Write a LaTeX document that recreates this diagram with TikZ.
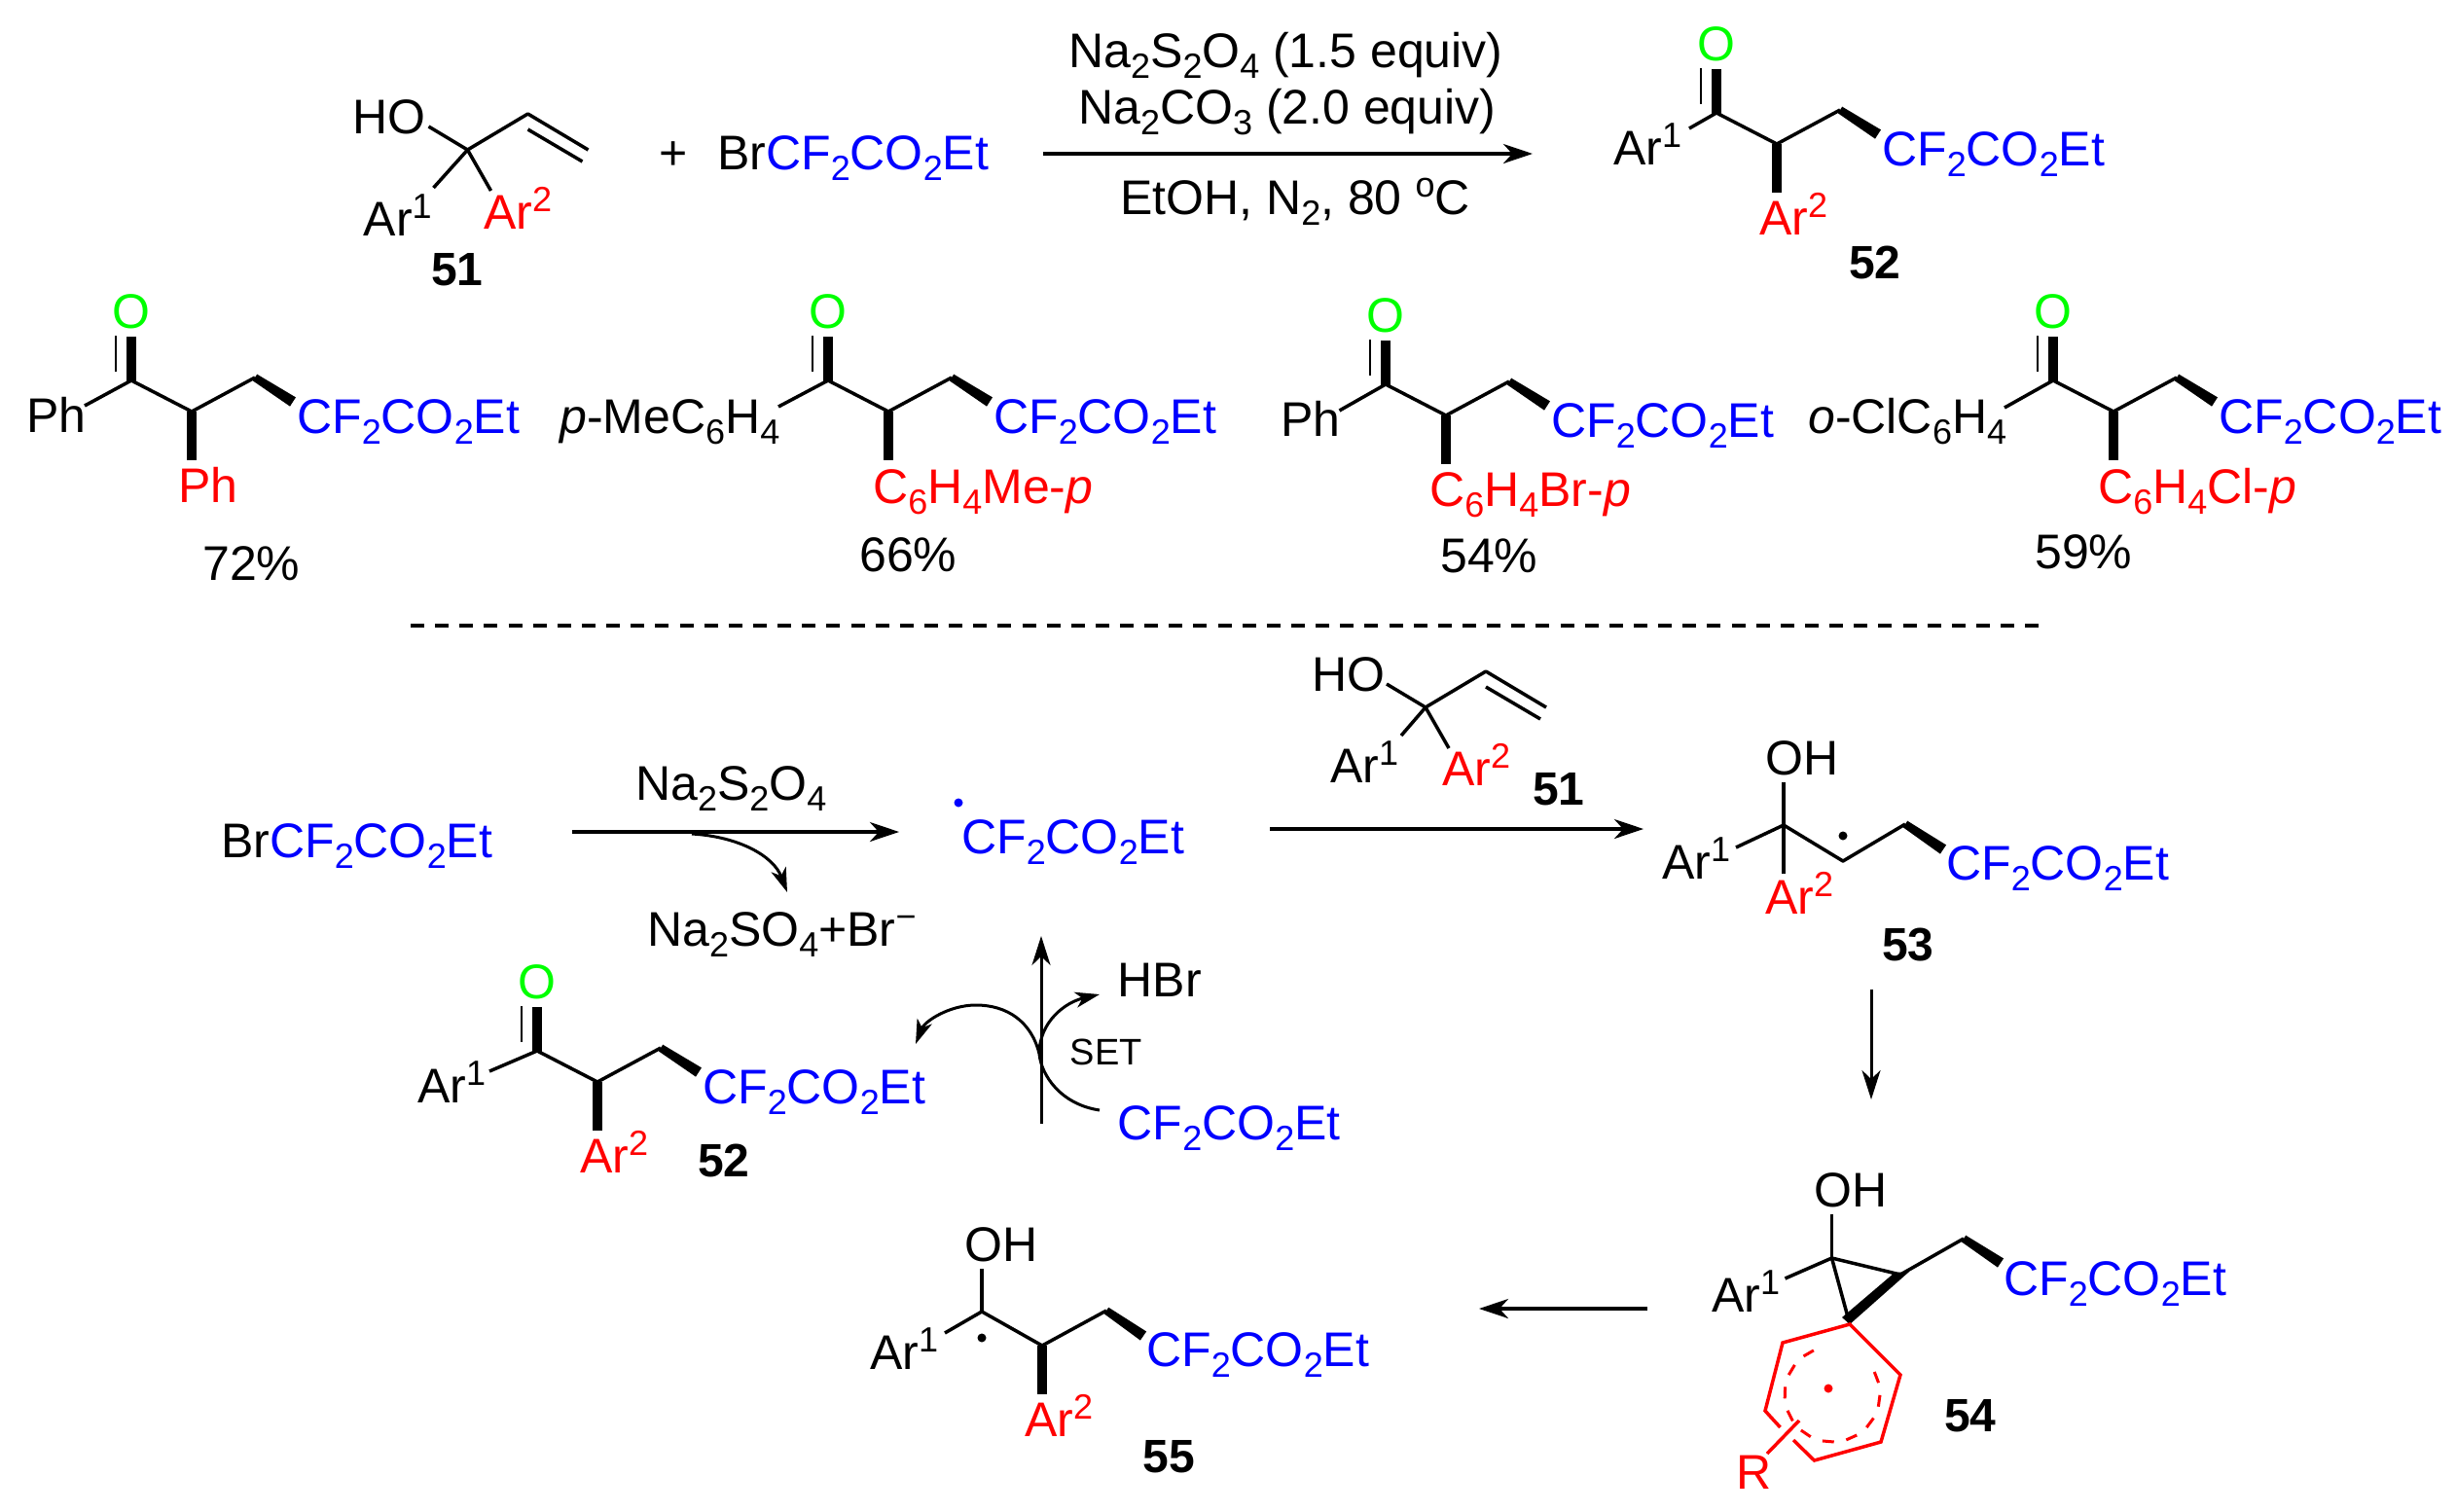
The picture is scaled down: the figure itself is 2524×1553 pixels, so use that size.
\documentclass[tikz,border=0pt]{standalone}
\usepackage{fontspec}
\setmainfont{Liberation Sans}
\usetikzlibrary{arrows.meta,calc}
\newcommand\sbs[1]{\raisebox{-11pt}{\fontsize{36}{36}\selectfont #1}}
\newcommand\sps[1]{\raisebox{18pt}{\fontsize{36}{36}\selectfont #1}}
\newcommand\CFE{\textcolor{blue}{CF\sbs{2}CO\sbs{2}Et}}
\newcommand\ArA{Ar\sps{1}}
\newcommand\ArB{\textcolor{red}{Ar\sps{2}}}
\newcommand\wdg[2]{\fill ($(#1)!4pt!90:(#2)$) -- ($(#1)!4pt!-90:(#2)$) -- ($(#2)!5.5pt!90:(#1)$) -- ($(#2)!5.5pt!-90:(#1)$) -- cycle;}
% ketone: #1 name, #2 carbonyl carbon, #3 left-hand bond end relative to that carbon
\newcommand\ketone[3]{%
  \begin{scope}[shift={(#2)}]
    \node[clbl,text=green] (#1O) at (0,-54) {O};
    \node[lbl] (#1R) at (172,54) {\CFE};
    \coordinate (#1a) at (62,32);
    \coordinate (#1b) at (127,-3);
    \coordinate (#1c) at (166,22);
    \draw[bond] (#3) -- (0,0) -- (#1a) -- (#1b);
    \draw[line width=2.5pt] (-16,-46) -- (-16,-9);
    \draw[line width=10pt] (0,-45) -- (0,1);
    \draw[line width=10pt] (#1a) -- (62,82);
    \wdg{#1b}{#1c}
  \end{scope}}
% allyl alcohol: #1 name, #2 centre carbon, #3 Ar1 bond end, #4 Ar1 text, #5 Ar2 text, #6 HO text
\newcommand\allyl[6]{%
  \begin{scope}[shift={(#2)}]
    \node[lbl] (#1H) at (#6) {HO};
    \node[lbl] (#1A) at (#4) {\ArA};
    \node[lbl] (#1B) at (#5) {\ArB};
    \draw[bond] (-40,-24) -- (0,0) -- (62,-37) -- (124,0);
    \draw[bond] (0,0) -- (#3);
    \draw[bond] (0,0) -- (24,42);
    \draw[bond] (62,-21) -- (118,12);
  \end{scope}}
\tikzset{
  lbl/.style={inner sep=0pt,anchor=base west,xshift=-2pt,font=\fontsize{50}{51}\selectfont},
  clbl/.style={inner sep=0pt,anchor=base,font=\fontsize{50}{51}\selectfont},
  num/.style={inner sep=0pt,anchor=base west,xshift=-2pt,font=\fontsize{48}{49}\selectfont\bfseries},
  bond/.style={draw=black,line width=3.5pt,line join=round},
  rbond/.style={draw=red,line width=3.5pt,line join=miter},
  rxn/.style={line width=3.5pt,-{Stealth[length=30pt,width=20pt,inset=9pt]}},
  thinarr/.style={line width=3pt,-{Stealth[length=25pt,width=16pt,inset=7pt]}},
}
\begin{document}
\begin{tikzpicture}[x=1pt,y=-1pt]
\useasboundingbox (0,0) rectangle (2524,1553);
% top scheme
\allyl{ta}{480.5,154}{-35,39}{-105,88}{18.5,81}{-116.5,-17}
\node[num] (n51) at (445,293) {51};
\node[clbl] (plus) at (692,174) {+};
\node[lbl] (brc) at (739,174) {Br\CFE};
\node[lbl] (c1) at (1100,69) {Na\sbs{2}S\sbs{2}O\sbs{4} (1.5 equiv)};
\node[lbl] (c2) at (1110,127) {Na\sbs{2}CO\sbs{3} (2.0 equiv)};
\node[lbl] (c3) at (1153,220) {EtOH, N\sbs{2}, 80 \sps{o}C};
\coordinate (ta1) at (1072,158);
\coordinate (ta2) at (1575,158);
\draw[rxn] (ta1) -- (ta2);
\ketone{tk}{1764,116}{-28,16}
\node[lbl] (tkA) at (1660,169) {\ArA};
\node[lbl] (tkB) at (1810,241) {\ArB};
\node[num] (n52) at (1902,286) {52};
% products
\ketone{pa}{135,391}{-48,26}
\node[lbl] (paL) at (29,444) {Ph};
\node[lbl,text=red] (paB) at (185,516) {Ph};
\node[lbl] (paY) at (210,596) {72\%};
\ketone{pb}{851,391}{-51,27}
\node[lbl] (pbL) at (577,445) {\textit{p}-MeC\sbs{6}H\sbs{4}};
\node[lbl,text=red] (pbB) at (899,517) {C\sbs{6}H\sbs{4}Me-\textit{p}};
\node[lbl] (pbY) at (885,587) {66\%};
\ketone{pc}{1424,395}{-47.5,27}
\node[lbl] (pcL) at (1318,448) {Ph};
\node[lbl,text=red] (pcB) at (1471,520) {C\sbs{6}H\sbs{4}Br-\textit{p}};
\node[lbl] (pcY) at (1482,588) {54\%};
\ketone{pd}{2110,391}{-50,28}
\node[lbl] (pdL) at (1860,445) {\textit{o}-ClC\sbs{6}H\sbs{4}};
\node[lbl,text=red] (pdB) at (2158,517) {C\sbs{6}H\sbs{4}Cl-\textit{p}};
\node[lbl] (pdY) at (2093,584) {59\%};
% divider
\coordinate (d1) at (422,643);
\coordinate (d2) at (2095,643);
\draw[line width=4pt,dash pattern=on 14pt off 11.14pt] (d1) -- (d2);
% mechanism, first row
\node[lbl] (mb) at (229,881) {Br\CFE};
\node[lbl] (ma) at (655,822) {Na\sbs{2}S\sbs{2}O\sbs{4}};
\node[lbl] (mn) at (667,972) {Na\sbs{2}SO\sbs{4}+Br\sps{−}};
\node[lbl] (mr) at (990,877) {\CFE};
\fill[blue] (985,825) circle (4.5);
\coordinate (m1) at (588,855);
\coordinate (m2) at (924,855);
\draw[rxn] (m1) -- (m2);
\coordinate (m3) at (711,857);
\coordinate (m4) at (809,917);
\draw[thinarr] (m3) .. controls (760,860) and (795,880) .. (m4);
\coordinate (m5) at (1305,852);
\coordinate (m6) at (1689,852);
\draw[rxn] (m5) -- (m6);
\allyl{ma}{1465,727}{-25,29}{-96,77}{19,80}{-115,-17}
\node[num] (n51b) at (1577,827) {51};
% 53
\node[lbl] (oa) at (1816,796) {OH};
\node[lbl] (aa) at (1710,903) {\ArA};
\node[lbl] (ab) at (1816,939) {\ArB};
\node[lbl] (ar) at (2002,904) {\CFE};
\node[num] (n53) at (1936,987) {53};
\coordinate (a0) at (1833,848);
\coordinate (a1) at (1894,885);
\coordinate (a2) at (1958,847);
\coordinate (a3) at (1997,873);
\draw[bond] (1784,871) -- (a0) -- (a1) -- (a2);
\draw[bond] (1833,804) -- (1833,898);
\wdg{a2}{a3}
\fill (1894,859) circle (4.5);
\coordinate (d3) at (1923,1017);
\coordinate (d4) at (1923,1130);
\draw[line width=3pt,-{Stealth[length=30pt,width=19pt,inset=9pt]}] (d3) -- (d4);
% 54
\node[lbl] (ba) at (1761,1348) {\ArA};
\node[lbl] (bo) at (1866,1240) {OH};
\node[lbl] (br) at (2061,1331) {\CFE};
\node[lbl,text=red] (bR) at (1786,1530) {R};
\node[num] (n54) at (2000,1471) {54};
\coordinate (c1p) at (1882.5,1293);
\coordinate (c2p) at (1953,1310);
\coordinate (c3p) at (1901,1361);
\coordinate (c4p) at (2018,1273);
\coordinate (c5p) at (2056,1298);
\draw[bond] (1882.5,1248) -- (c1p);
\draw[bond] (1834.5,1314) -- (c1p) -- (c2p);
\draw[bond] (c1p) -- (c3p);
\draw[bond] (c2p) -- (c4p);
\fill (c3p) -- (1893,1354) -- (1947,1308) -- (1962,1307) -- cycle;
\wdg{c4p}{c5p}
\draw[rbond] (1829.5,1467) -- (1814,1450) -- (1832,1380) -- (c3p) -- (1953,1413) -- (1933,1482) -- (1864.5,1501) -- (1843,1480);
\draw[rbond] (1849,1460) -- (1816,1494);
\fill[red] (1879,1427) circle (4.5);
\foreach \k in {0,...,9} {
  \pgfmathsetmacro\aa{113+29*\k}
  \pgfmathsetmacro\ab{\aa+14}
  \draw[red,line width=3pt] ({1883+49*cos(\aa)},{1433-49*sin(\aa)}) -- ({1883+49*cos(\ab)},{1433-49*sin(\ab)});
}
% 54 to 55
\coordinate (e1) at (1693,1345);
\coordinate (e2) at (1520,1345);
\draw[rxn] (e1) -- (e2);
% 55
\node[lbl] (co) at (993,1296) {OH};
\node[lbl] (ca) at (896,1407) {\ArA};
\node[lbl] (cb) at (1055,1476) {\ArB};
\node[lbl] (cr) at (1180,1404) {\CFE};
\node[num] (n55) at (1176.5,1513) {55};
\coordinate (f0) at (1009,1348);
\coordinate (f1) at (1071,1383);
\coordinate (f2) at (1137,1347);
\coordinate (f3) at (1175,1373);
\draw[bond] (1009,1304) -- (f0);
\draw[bond] (971,1370) -- (f0) -- (f1) -- (f2);
\draw[line width=10pt] (f1) -- (1071,1433);
\wdg{f2}{f3}
\fill (1009,1375) circle (4.5);
% lower-left 52 and SET
\ketone{lk}{552,1080}{-49,21}
\node[lbl] (lkA) at (431,1133) {\ArA};
\node[lbl] (lkB) at (598,1205) {\ArB};
\node[num] (n52b) at (719,1209) {52};
\node[lbl] (hbr) at (1150.6,1024) {HBr};
\node[lbl] (crb) at (1150.6,1171) {\CFE};
\node[lbl,font=\fontsize{38}{38}\selectfont] (set) at (1101.5,1094) {SET};
\coordinate (g1) at (1070,1155);
\coordinate (g2) at (1070,962);
\draw[line width=3pt,-{Stealth[length=30pt,width=19pt,inset=9pt]}] (g1) -- (g2);
\coordinate (g3) at (1130,1141);
\coordinate (g4) at (941,1073);
\draw[thinarr] (g3) .. controls (1090,1135) and (1070,1105) .. (1068,1083)
  .. controls (1060,1050) and (1035,1033) .. (1003,1033)
  .. controls (975,1033) and (950,1050) .. (g4);
\coordinate (g5) at (1068,1083);
\coordinate (g6) at (1130,1022);
\draw[thinarr] (g5) .. controls (1068,1050) and (1095,1030) .. (g6);
\end{tikzpicture}
\end{document}
